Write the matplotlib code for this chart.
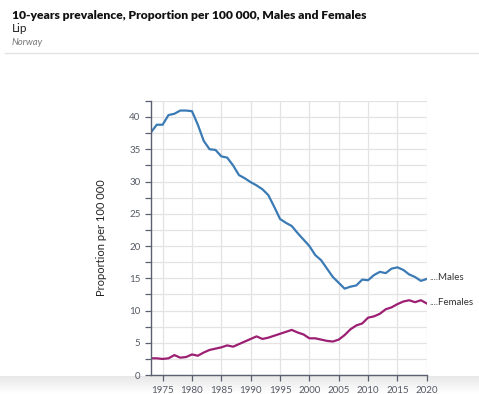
import matplotlib
matplotlib.use("Agg")
import matplotlib.pyplot as plt
import matplotlib.ticker as mticker
import numpy as np

_FONT = "Lato"
_TEXT = "#222222"
_MUTED = "#555b66"
_GRID = "#e3e3e3"
_SPINE = "#5a6070"
_MALES = "#3b7bb5"
_FEMALES = "#9c1f73"

years = list(range(1973, 2021))
males = [37.6, 38.8, 38.8, 40.3, 40.5, 41.0, 41.0, 40.9, 38.8, 36.3,
         35.0, 34.9, 33.9, 33.7, 32.5, 31.0, 30.5, 29.9, 29.4, 28.8,
         27.9, 26.1, 24.2, 23.6, 23.1, 22.0, 21.0, 20.0, 18.6, 17.8,
         16.5, 15.2, 14.3, 13.4, 13.7, 13.9, 14.8, 14.7, 15.5, 16.0,
         15.8, 16.5, 16.7, 16.3, 15.6, 15.2, 14.6, 14.9]
females = [2.6, 2.6, 2.5, 2.6, 3.1, 2.7, 2.8, 3.2, 3.0, 3.5,
           3.9, 4.1, 4.3, 4.6, 4.4, 4.8, 5.2, 5.6, 6.0, 5.6,
           5.8, 6.1, 6.4, 6.7, 7.0, 6.6, 6.3, 5.7, 5.7, 5.5,
           5.3, 5.2, 5.5, 6.2, 7.1, 7.7, 8.0, 8.9, 9.1, 9.5,
           10.2, 10.5, 11.0, 11.4, 11.6, 11.3, 11.6, 11.1]
series = [("Males", males, _MALES), ("Females", females, _FEMALES)]

title = "10-years prevalence, Proportion per 100 000, Males and Females"
subtitle = "Lip"
region = "Norway"
ylabel = "Proportion per 100 000"

plt.rcParams["font.family"] = [_FONT, "DejaVu Sans"]

fig = plt.figure(figsize=(4.79, 3.94), dpi=100)

# soft grey band along the bottom edge
bg = fig.add_axes([0, 0, 1, 0.045], zorder=-5)
grad = np.linspace(1, 0, 50).reshape(-1, 1)
bg.imshow(grad, aspect="auto", cmap=matplotlib.colors.LinearSegmentedColormap.from_list(
    "band", ["#ffffff", "#e8e8e8"]), extent=[0, 1, 0, 1], origin="upper")
bg.axis("off")

ax = fig.add_axes([0.315, 0.048, 0.576, 0.696])
ax.set_facecolor("none")

for name, vals, col in series:
    ax.plot(years, vals, color=col, linewidth=1.6, solid_joinstyle="round")
    ax.annotate("...." + name, xy=(years[-1], vals[-1]), xytext=(2, 1),
                textcoords="offset points", fontsize=7, color="#333333",
                va="center", ha="left", annotation_clip=False)

ax.set_xlim(1973, 2020)
ax.set_ylim(0, 42.5)
ax.xaxis.set_major_locator(mticker.MultipleLocator(5))
ax.yaxis.set_major_locator(mticker.MultipleLocator(5))
ax.yaxis.set_minor_locator(mticker.MultipleLocator(2.5))
ax.grid(True, which="major", axis="x", color=_GRID, linewidth=0.9)
ax.grid(True, which="both", axis="y", color=_GRID, linewidth=0.9)
ax.set_axisbelow(True)

for s in ("top", "right"):
    ax.spines[s].set_visible(False)
for s in ("left", "bottom"):
    ax.spines[s].set_color(_SPINE)
    ax.spines[s].set_linewidth(1.0)

ax.tick_params(axis="both", which="both", colors=_SPINE, labelcolor=_MUTED,
               labelsize=7, length=4, width=0.9)
ax.tick_params(axis="x", pad=4)

ax.set_ylabel(ylabel, fontsize=8, color=_TEXT, labelpad=16)

fig.text(0.025, 0.953, title, fontsize=8.7, fontweight="heavy", color="#111111",
         va="baseline")
fig.text(0.025, 0.918, subtitle, fontsize=8.5, color=_TEXT, va="baseline")
fig.text(0.025, 0.886, region, fontsize=6.8, color="#777777", style="italic",
         va="baseline")
fig.add_artist(plt.Line2D([0.01, 1.0], [0.865, 0.865], color="#e2e2e2",
                          linewidth=1.0, transform=fig.transFigure))

fig.savefig("out.png", dpi=100, facecolor="white")
